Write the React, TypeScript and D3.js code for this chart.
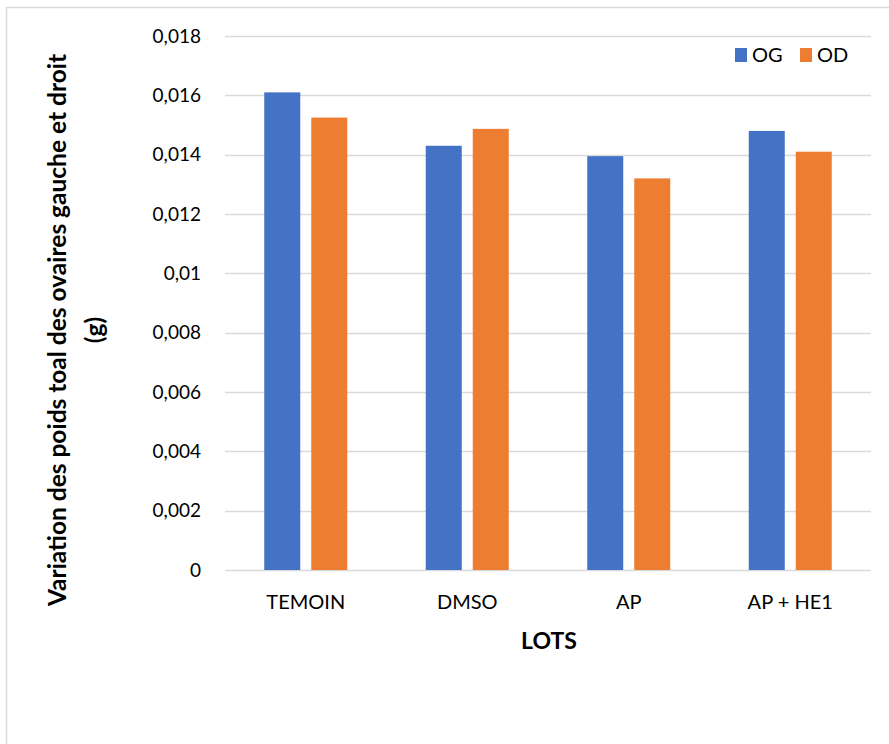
import React from "react";
import * as d3 from "d3";

const categories = ["TEMOIN", "DMSO", "AP", "AP + HE1"];
const seriesNames = ["OG", "OD"];
const ogValues = [0.0161, 0.0143, 0.01395, 0.0148];
const odValues = [0.01525, 0.01487, 0.0132, 0.0141];
const yTicks = [0, 0.002, 0.004, 0.006, 0.008, 0.01, 0.012, 0.014, 0.016, 0.018];
const colors = ["#4472C4", "#ED7D31"];

const W = 889;
const H = 744;
const plot = { left: 225, right: 871, top: 36, bottom: 570 };
const font = "Lato, 'Open Sans', sans-serif";

export default function App() {
  const x = d3.scaleBand<string>().domain(categories).range([plot.left, plot.right]).paddingInner(0).paddingOuter(0);
  const y = d3.scaleLinear().domain([0, 0.018]).range([plot.bottom, plot.top]);
  const barW = 36;
  const gap = 11;
  const series = [ogValues, odValues];
  const fmt = (v: number) => (v === 0 ? "0" : String(+v.toFixed(3)).replace(".", ","));

  return (
    <div style={{ position: "fixed", left: 0, top: 0 }}>
      <svg width={W} height={H} style={{ display: "block", background: "#fff" }}>
        <rect x={6.5} y={7.5} width={W + 10} height={H + 10} fill="#fff" stroke="#d9d9d9" strokeWidth={1.5} />
        {yTicks.map((t) => (
          <g key={t}>
            <line x1={plot.left} x2={plot.right} y1={Math.round(y(t)) + 0.5} y2={Math.round(y(t)) + 0.5} stroke="#d9d9d9" strokeWidth={1.3} />
            <text x={201} y={y(t)} dy="0.35em" textAnchor="end" fontFamily={font} fontSize={19} fill="#000">
              {fmt(t)}
            </text>
          </g>
        ))}
        {categories.map((c, i) => {
          const cx = (x(c) as number) + x.bandwidth() / 2;
          return (
            <g key={c}>
              {series.map((vals, s) => {
                const bx = s === 0 ? cx - gap / 2 - barW : cx + gap / 2;
                return (
                  <rect key={s} x={bx} y={y(vals[i])} width={barW} height={y(0) - y(vals[i])} fill={colors[s]} />
                );
              })}
              <text x={cx} y={609} textAnchor="middle" fontFamily={font} fontSize={20} fill="#000">
                {c}
              </text>
            </g>
          );
        })}
        <text x={549} y={649} textAnchor="middle" fontFamily={font} fontSize={23} fontWeight="bold" fill="#000">
          LOTS
        </text>
        <g transform="translate(66,330) rotate(-90)">
          <text x={0} y={0} textAnchor="middle" fontFamily={font} fontSize={24.5} fontWeight="bold" fill="#000">
            Variation des poids toal des ovaires gauche et droit
          </text>
          <text x={0} y={37} textAnchor="middle" fontFamily={font} fontSize={24.5} fontWeight="bold" fill="#000">
            (g)
          </text>
        </g>
        {seriesNames.map((n, i) => (
          <g key={n} transform={`translate(${735 + i * 65},0)`}>
            <rect x={0} y={48} width={12} height={14} fill={colors[i]} />
            <text x={17} y={55} dy="0.36em" fontFamily={font} fontSize={20} fill="#000">
              {n}
            </text>
          </g>
        ))}
      </svg>
    </div>
  );
}
